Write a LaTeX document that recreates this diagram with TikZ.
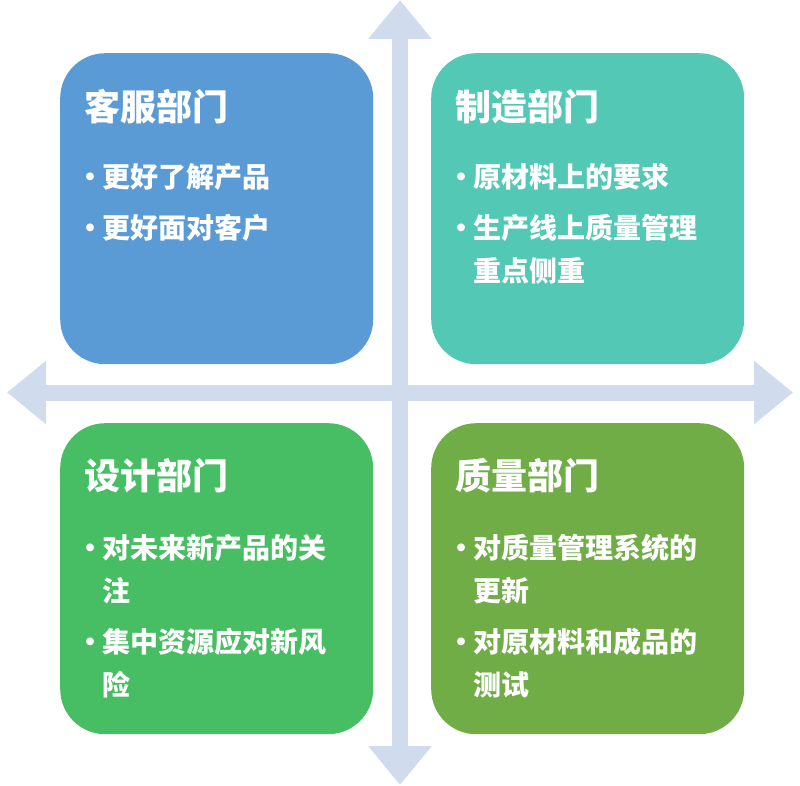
\documentclass[tikz,border=0pt]{standalone}
\usepackage{fontspec}
\setmainfont{Noto Sans CJK SC}
\usepackage{tikz}
\usetikzlibrary{arrows.meta, positioning}
\definecolor{kfblue}{HTML}{5B9BD5}
\definecolor{zzteal}{HTML}{52C8B5}
\definecolor{sjgreen}{HTML}{47BE63}
\definecolor{zlgreen}{HTML}{70AD47}
\definecolor{axisgray}{HTML}{D0DCEE}
\tikzstyle{dept} = [rectangle, rounded corners=45pt, minimum width=313pt, minimum height=311pt, inner sep=0pt, anchor=north west]
\tikzstyle{title} = [anchor=base west, inner sep=0pt, text=white, font=\fontsize{36}{40}\selectfont\bfseries]
\tikzstyle{items} = [anchor=base west, inner sep=0pt, text=white, font=\fontsize{28}{43}\selectfont\bfseries]
\tikzstyle{axis} = [line width=16pt, draw=axisgray, {Triangle[length=39pt,width=61pt]}-{Triangle[length=39pt,width=61pt]}]
\newcommand{\bulletmark}{\makebox[15pt][l]{\makebox[6pt][c]{•}}}
\newcommand{\hangmark}{\makebox[15pt][l]{}}
\newenvironment{itemlines}{\begin{tabular}[t]{@{}l@{}}}{\end{tabular}}

\begin{document}
\begin{tikzpicture}[x=1pt, y=-1pt]
        \useasboundingbox (0,0) rectangle (800,786);
        \coordinate (west) at (7,392.5);
        \coordinate (east) at (793,392.5);
        \coordinate (north) at (400,0);
        \coordinate (south) at (400,785);
        \draw [axis] (west) -- (east);
        \draw [axis] (north) -- (south);
        % departments
        \node (kefu) [dept, fill=kfblue] at (60,53) {};
        \node (zhizao) [dept, fill=zzteal] at (431,53) {};
        \node (sheji) [dept, fill=sjgreen] at (60,423) {};
        \node (zhiliang) [dept, fill=zlgreen] at (431,423) {};
        \node (kefut) [title] at ([shift={(24,68)}]kefu.north west) {客服部门};
        \node (zhizaot) [title] at ([shift={(24,68)}]zhizao.north west) {制造部门};
        \node (shejit) [title] at ([shift={(24,66)}]sheji.north west) {设计部门};
        \node (zhiliangt) [title] at ([shift={(24,66)}]zhiliang.north west) {质量部门};
        \node (kefui) [items] at ([shift={(27,135)}]kefu.north west) {\begin{itemlines}\bulletmark 更好了解产品\\[8pt]\bulletmark 更好面对客户\end{itemlines}};
        \node (zhizaoi) [items] at ([shift={(27,135)}]zhizao.north west) {\begin{itemlines}\bulletmark 原材料上的要求\\[8pt]\bulletmark 生产线上质量管理\\\hangmark 重点侧重\end{itemlines}};
        \node (shejii) [items] at ([shift={(27,135)}]sheji.north west) {\begin{itemlines}\bulletmark 对未来新产品的关\\\hangmark 注\\[8pt]\bulletmark 集中资源应对新风\\\hangmark 险\end{itemlines}};
        \node (zhiliangi) [items] at ([shift={(27,135)}]zhiliang.north west) {\begin{itemlines}\bulletmark 对质量管理系统的\\\hangmark 更新\\[8pt]\bulletmark 对原材料和成品的\\\hangmark 测试\end{itemlines}};
    \end{tikzpicture}
\end{document}
